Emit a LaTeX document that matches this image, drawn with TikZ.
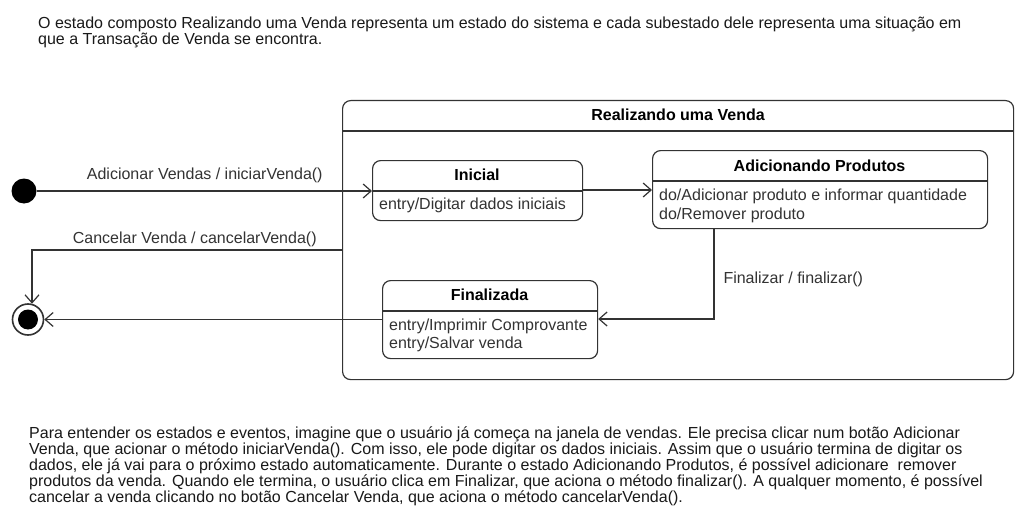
\documentclass[tikz,border=0pt]{standalone}
\usepackage{fontspec}
\setmainfont{Liberation Sans}
\usetikzlibrary{arrows.meta}
\definecolor{ln}{HTML}{333333}
\begin{document}
\begin{tikzpicture}[x=1pt,y=-1pt,
  every node/.style={font=\fontsize{16}{16}\selectfont, text=ln, inner sep=0pt},
  stbox/.style={draw=ln, line width=1.2pt, rounded corners=8pt, fill=white, anchor=north west},
  sepline/.style={draw=ln, line width=1.2pt},
  arr/.style={draw=ln, line width=1.2pt, -{Straight Barb[length=8pt,width=14pt]}},
  ttl/.style={anchor=base, font=\fontsize{16}{16}\selectfont\bfseries},
  txt/.style={anchor=base west},
  note/.style={anchor=base west, text=black!90}
]
\useasboundingbox (0,0) rectangle (1026,527);
\fill[white] (0,0) rectangle (1026,527);

% top note
\node[note] (n1) at (38,29) {O estado composto Realizando uma Venda representa um estado do sistema e cada subestado dele representa uma situação em};
\node[note] (n2) at (38,44.5) {que a Transação de Venda se encontra.};

% composite state
\node[stbox, minimum width=671pt, minimum height=279pt] (comp) at (342,100) {};
\draw[sepline] (comp.west |- 0,131) -- (comp.east |- 0,131);
\node[ttl, text=black] (compt) at (678,120.7) {Realizando uma Venda};

% Inicial
\node[stbox, minimum width=210pt, minimum height=60pt] (ini) at (372,160) {};
\draw[sepline] (ini.west |- 0,191) -- (ini.east |- 0,191);
\node[ttl, text=black] (init1) at (477,180.7) {Inicial};
\node[txt] (init2) at (379,209.5) {entry/Digitar dados iniciais};

% Adicionando Produtos
\node[stbox, minimum width=335pt, minimum height=78pt] (adp) at (652,150) {};
\draw[sepline] (adp.west |- 0,181) -- (adp.east |- 0,181);
\node[ttl, text=black] (adpt) at (819.5,171) {Adicionando Produtos};
\node[txt] (adp1) at (659,200) {do/Adicionar produto e informar quantidade};
\node[txt] (adp2) at (659,219) {do/Remover produto};

% Finalizada
\node[stbox, minimum width=215pt, minimum height=78pt] (fin) at (382,280) {};
\draw[sepline] (fin.west |- 0,311) -- (fin.east |- 0,311);
\node[ttl, text=black] (fint) at (489.5,300.7) {Finalizada};
\node[txt] (fin1) at (389,330) {entry/Imprimir Comprovante};
\node[txt] (fin2) at (389,348.5) {entry/Salvar venda};

% pseudo states
\node[circle, fill=black, minimum size=25pt] (init) at (24,191) {};
\node[circle, draw=ln, line width=1.6pt, fill=white, minimum size=31pt] (final) at (28,319.5) {};
\fill[black] (final.center) circle (10pt);

% transitions
\draw[arr] (init) -- (ini.west |- init);
\node[txt] (l1) at (86.7,179.3) {Adicionar Vendas / iniciarVenda()};
\draw[arr] (ini.east |- 0,190) -- (adp.west |- 0,190);
\draw[arr] (adp.south -| 714,0) |- (fin.east |- 0,319);
\node[txt] (l2) at (723.3,283.3) {Finalizar / finalizar()};
\draw[arr] (comp.west |- 0,250) -| ([xshift=4pt,yshift=-0.5pt]final.north);
\node[txt] (l3) at (72.7,243.3) {Cancelar Venda / cancelarVenda()};
\draw[arr] (fin.west |- final) -- (final);

% bottom note
\node[note] (b1) at (29,438) {Para entender os estados e eventos, imagine que o usuário já começa na janela de vendas. Ele precisa clicar num botão Adicionar};
\node[note] (b2) at (29,454) {Venda, que acionar o método iniciarVenda(). Com isso, ele pode digitar os dados iniciais. Assim que o usuário termina de digitar os};
\node[note] (b3) at (29,470) {dados, ele já vai para o próximo estado automaticamente. Durante o estado Adicionando Produtos, é possível adicionare \ remover};
\node[note] (b4) at (29,486) {produtos da venda. Quando ele termina, o usuário clica em Finalizar, que aciona o método finalizar(). A qualquer momento, é possível};
\node[note] (b5) at (29,502) {cancelar a venda clicando no botão Cancelar Venda, que aciona o método cancelarVenda().};
\end{tikzpicture}
\end{document}
